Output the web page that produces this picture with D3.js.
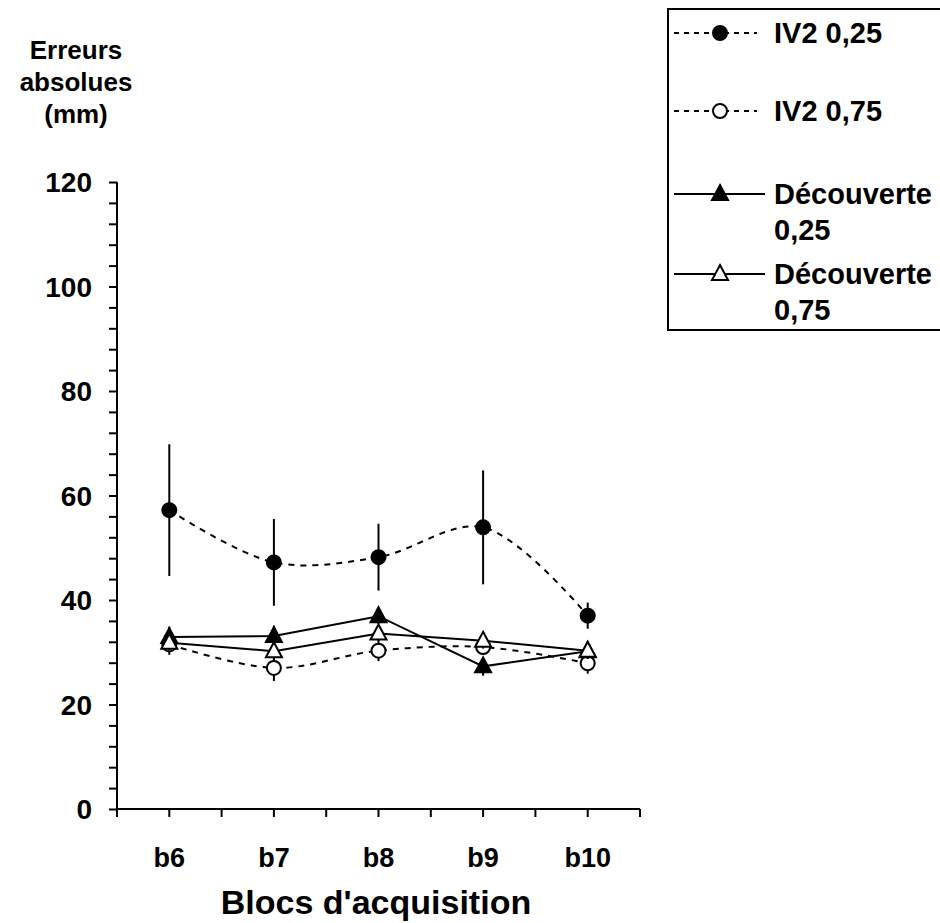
<!DOCTYPE html>
<meta charset="utf-8">
<style>
body { margin: 0; background: #fff; }
text { font-family: "Liberation Sans", Arial, sans-serif; font-weight: bold; fill: #000; }
.axis path, .axis line { fill: none; stroke: #000; stroke-width: 2px; }
.axis text { font-size: 28px; }
</style>
<body>
<script src="https://d3js.org/d3.v7.min.js"></script>
<script>

var blocs = ["b6", "b7", "b8", "b9", "b10"];
var iv2_025 = [57.2, 47.2, 48.2, 53.9, 37.0];
var iv2_025_err = [12.6, 8.3, 6.4, 10.9, 2.5];
var iv2_075 = [31.5, 27.0, 30.3, 31.0, 27.9];
var iv2_075_err = [2.0, 2.5, 2.0, 1.5, 2.0];
var dec_025 = [32.9, 33.1, 36.9, 27.3, 30.2];
var dec_025_err = [2.0, 2.0, 1.5, 1.8, 1.5];
var dec_075 = [31.8, 30.2, 33.6, 32.2, 30.3];
var dec_075_err = [1.5, 1.5, 1.5, 1.5, 1.5];
var yTicks = [0, 20, 40, 60, 80, 100, 120];

var series = [
  {name: ["IV2 0,25"], values: iv2_025, err: iv2_025_err, dashed: true, shape: "circle", filled: true},
  {name: ["IV2 0,75"], values: iv2_075, err: iv2_075_err, dashed: true, shape: "circle", filled: false},
  {name: ["Découverte", "0,25"], values: dec_025, err: dec_025_err, dashed: false, shape: "triangle", filled: true},
  {name: ["Découverte", "0,75"], values: dec_075, err: dec_075_err, dashed: false, shape: "triangle", filled: false}
];

var svg = d3.select("body").append("svg")
    .attr("width", 940)
    .attr("height", 923);

var x = d3.scaleBand().domain(blocs).range([117, 640]);
var y = d3.scaleLinear().domain([0, 120]).range([809, 182]);
var cx = function(i) { return x(blocs[i]) + x.bandwidth() / 2; };

// y axis with minor ticks every 4
svg.append("g")
    .attr("class", "axis")
    .attr("transform", "translate(117,0)")
    .call(d3.axisLeft(y).tickValues(d3.range(0, 121, 4)).tickSize(8).tickFormat(""))
    .call(function(g) { g.select(".domain").attr("d", "M0," + y(120) + "V" + y(0)); });

svg.append("g")
    .attr("class", "axis")
    .selectAll("text")
    .data(yTicks)
  .enter().append("text")
    .attr("x", 92)
    .attr("y", function(d) { return y(d); })
    .attr("dy", "0.36em")
    .attr("text-anchor", "end")
    .text(function(d) { return d; });

// x axis, ticks at band edges and centres
var xTickPos = d3.range(0, 11).map(function(k) { return 117 + k * x.bandwidth() / 2; });
var xg = svg.append("g").attr("class", "axis");
xg.append("path").attr("d", "M116," + y(0) + "H640");
xg.selectAll("line").data(xTickPos).enter().append("line")
    .attr("x1", function(d) { return d; }).attr("x2", function(d) { return d; })
    .attr("y1", y(0)).attr("y2", y(0) + 8);
xg.selectAll("text").data(blocs).enter().append("text")
    .attr("x", function(d, i) { return cx(i); })
    .attr("y", 857)
    .attr("dy", "0.36em")
    .attr("text-anchor", "middle")
    .style("font-size", "27px")
    .text(function(d) { return d; });

svg.append("text")
    .attr("x", 376).attr("y", 902)
    .attr("dy", "0.36em")
    .attr("text-anchor", "middle")
    .style("font-size", "34px")
    .text("Blocs d'acquisition");

var ytitle = ["Erreurs", "absolues", "(mm)"];
svg.selectAll(".ytitle").data(ytitle).enter().append("text")
    .attr("class", "ytitle")
    .attr("x", 76)
    .attr("y", function(d, i) { return 50 + i * 32; })
    .attr("dy", "0.36em")
    .attr("text-anchor", "middle")
    .style("font-size", "26px")
    .text(function(d) { return d; });

function drawMarker(g, s, px, py) {
  if (s.shape === "circle") {
    g.append("circle").attr("cx", px).attr("cy", py).attr("r", 7)
      .attr("fill", s.filled ? "#000" : "#fff")
      .attr("stroke", "#000").attr("stroke-width", 2);
  } else {
    g.append("path")
      .attr("d", "M" + px + "," + (py - 9) + "L" + (px + 8) + "," + (py + 6) + "L" + (px - 8) + "," + (py + 6) + "Z")
      .attr("fill", s.filled ? "#000" : "#fff")
      .attr("stroke", "#000").attr("stroke-width", 2).attr("stroke-linejoin", "miter");
  }
}

var plot = svg.append("g");

series.forEach(function(s) {
  var g = plot.append("g");
  var line = d3.line()
      .x(function(d, i) { return cx(i); })
      .y(function(d) { return y(d); })
      .curve(s.dashed ? d3.curveCatmullRom : d3.curveLinear);
  g.append("path")
      .datum(s.values)
      .attr("d", line)
      .attr("fill", "none")
      .attr("stroke", "#000")
      .attr("stroke-width", 2)
      .attr("stroke-dasharray", s.dashed ? "6,6" : null);
  g.selectAll(".err").data(s.values).enter().append("line")
      .attr("x1", function(d, i) { return cx(i); })
      .attr("x2", function(d, i) { return cx(i); })
      .attr("y1", function(d, i) { return y(d + s.err[i]); })
      .attr("y2", function(d, i) { return y(d - s.err[i]); })
      .attr("stroke", "#000")
      .attr("stroke-width", 2);
  s.values.forEach(function(v, i) { drawMarker(g, s, cx(i), y(v)); });
});

// legend
var lg = svg.append("g");
lg.append("rect")
    .attr("x", 668).attr("y", 9).attr("width", 290).attr("height", 321)
    .attr("fill", "#fff").attr("stroke", "#000").attr("stroke-width", 2);

var legendRows = [33, 111, 194, 274];
series.forEach(function(s, k) {
  var ly = legendRows[k];
  lg.append("line")
      .attr("x1", 674).attr("x2", s.dashed ? 757 : 765)
      .attr("y1", ly).attr("y2", ly)
      .attr("stroke", "#000").attr("stroke-width", 2)
      .attr("stroke-dasharray", s.dashed ? "5,5" : null);
  drawMarker(lg, s, 720, ly);
  s.name.forEach(function(t, j) {
    lg.append("text")
        .attr("x", 774)
        .attr("y", ly + j * 36)
        .attr("dy", "0.36em")
        .style("font-size", "29px")
        .text(t);
  });
});

</script>
